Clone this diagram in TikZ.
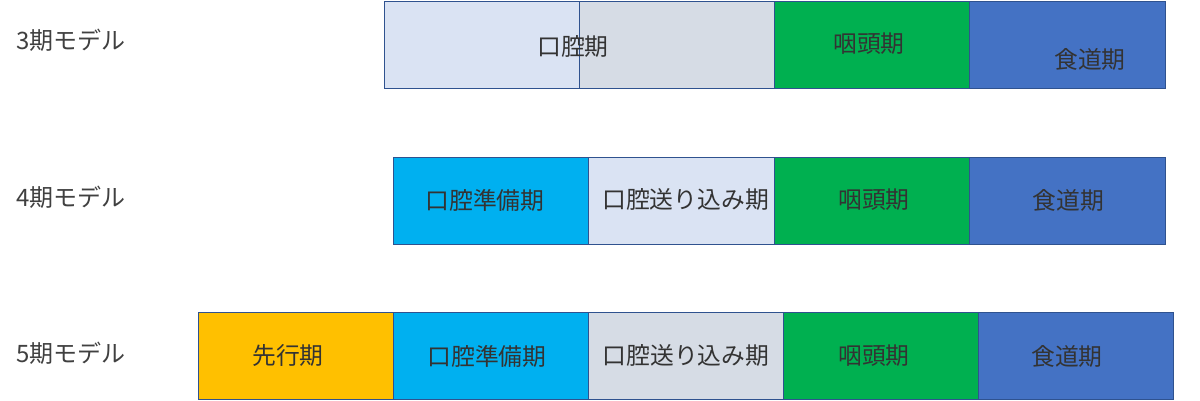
\documentclass[tikz,border=0pt]{standalone}
\usepackage{fontspec}
\setmainfont{Noto Sans CJK JP}
\definecolor{edge}{HTML}{2F528F}
\definecolor{lblue}{HTML}{DAE3F3}
\definecolor{lgray}{HTML}{D6DCE5}
\definecolor{pgreen}{HTML}{00B050}
\definecolor{pblue}{HTML}{4472C4}
\definecolor{porange}{HTML}{FFC000}
\definecolor{pcyan}{HTML}{00B0F0}
\tikzset{
  stagebox/.style={draw=edge, line width=1pt, anchor=north west, minimum width=#1pt, minimum height=87pt, inner sep=0pt},
  stagebox/.default=195,
  txt/.style={font=\fontsize{23.8}{26}\selectfont, text=black!80, inner sep=0pt},
  modellabel/.style={font=\fontsize{24}{26}\selectfont, text=black!75, anchor=west, inner sep=0pt}
}
\begin{document}
\begin{tikzpicture}[x=1pt,y=-1pt]
\useasboundingbox (0,0) rectangle (1200,401);
% row 1
\node[stagebox, fill=lblue] (a1) at (384,1) {};
\node[stagebox, fill=lgray] (a2) at (579,1) {};
\node[stagebox, fill=pgreen] (a3) at (774,1) {};
\node[stagebox, fill=pblue, minimum width=196pt] (a4) at (969,1) {};
\node[txt] (t1) at (573,47) {口腔期};
\node[txt] (t3) at (869,44) {咽頭期};
\node[txt] (t4) at (1090,59) {食道期};
\node[modellabel] (m3) at (16,40) {3期モデル};
% row 2
\node[stagebox, fill=pcyan] (b1) at (393,157) {};
\node[stagebox, fill=lblue, minimum width=186pt] (b2) at (588,157) {};
\node[stagebox, fill=pgreen] (b3) at (774,157) {};
\node[stagebox, fill=pblue, minimum width=196pt] (b4) at (969,157) {};
\node[txt, xshift=-6pt, yshift=1pt] (b1t) at (b1) {口腔準備期};
\node[txt, xshift=4pt, yshift=1pt] (b2t) at (b2) {口腔送り込み期};
\node[txt, xshift=2pt, yshift=1pt] (b3t) at (b3) {咽頭期};
\node[txt, xshift=1pt, yshift=1pt] (b4t) at (b4) {食道期};
\node[modellabel] (m4) at (16,197) {4期モデル};
% row 3
\node[stagebox, fill=porange] (c1) at (198,312) {};
\node[stagebox, fill=pcyan] (c2) at (393,312) {};
\node[stagebox, fill=lgray] (c3) at (588,312) {};
\node[stagebox, fill=pgreen] (c4) at (783,312) {};
\node[stagebox, fill=pblue] (c5) at (978,312) {};
\node[txt, xshift=-8pt] (c1t) at (c1) {先行期};
\node[txt, xshift=-4pt] (c2t) at (c2) {口腔準備期};
\node[txt] (c3t) at (c3) {口腔送り込み期};
\node[txt, xshift=-7pt] (c4t) at (c4) {咽頭期};
\node[txt, xshift=-9pt] (c5t) at (c5) {食道期};
\node[modellabel] (m5) at (16,353) {5期モデル};
\end{tikzpicture}
\end{document}
